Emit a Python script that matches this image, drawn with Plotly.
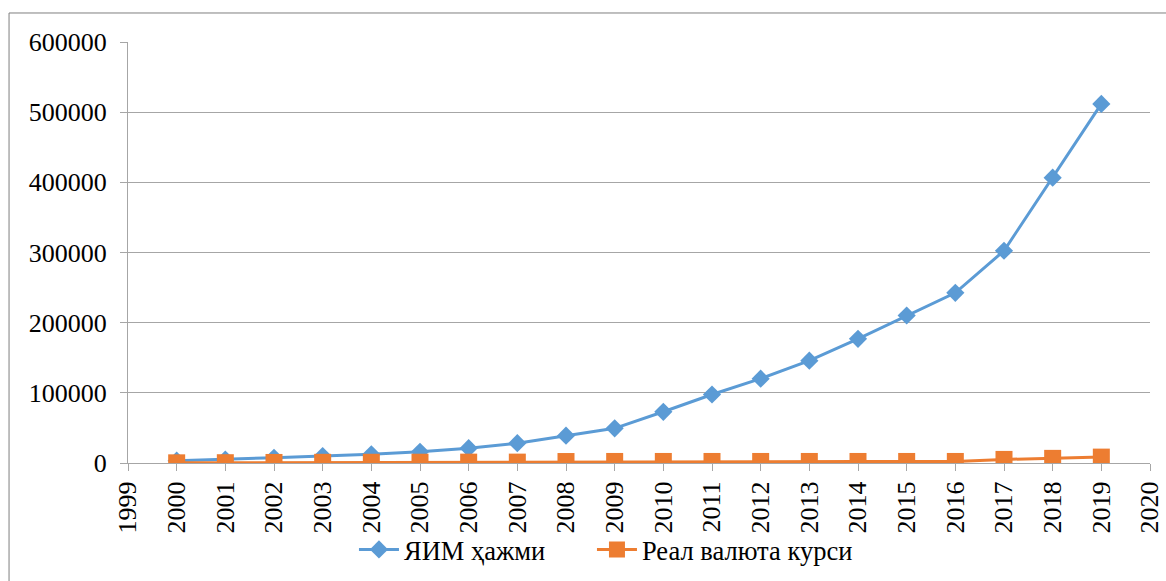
import plotly.graph_objects as go

years = list(range(2000, 2020))
gdp = [3300, 4900, 7500, 9800, 12300, 15900, 21100, 28200, 39000, 49400,
       73000, 97600, 120200, 145800, 177000, 210200, 242500, 302500, 406600, 511800]
rate = [240, 420, 770, 970, 1020, 1110, 1220, 1260, 2100, 2200,
        2200, 2200, 2200, 2200, 2200, 2200, 2200, 5100, 6600, 8400]
series_names = ["ЯИМ ҳажми", "Реал валюта курси"]
ytick_vals = [0, 100000, 200000, 300000, 400000, 500000, 600000]

FONT = "Liberation Serif"
GRID = "#a6a6a6"

fig = go.Figure()
fig.add_trace(go.Scatter(
    x=years, y=gdp, name=series_names[0], mode="lines+markers",
    line=dict(color="#5B9BD5", width=3), legendwidth=183,
    marker=dict(symbol="diamond", size=14, color="#5B9BD5"),
))
fig.add_trace(go.Scatter(
    x=years, y=rate, name=series_names[1], mode="lines+markers",
    line=dict(color="#ED7D31", width=3),
    marker=dict(symbol="square", size=17, color="#ED7D31"),
))

fig.update_layout(
    width=1166, height=581,
    margin=dict(l=128, r=16, t=42, b=118, autoexpand=False),
    paper_bgcolor="white", plot_bgcolor="white",
    font=dict(family=FONT, size=26, color="black"),
    showlegend=True,
    legend=dict(orientation="h", x=0.2211, xanchor="left", y=-0.206, yanchor="middle",
                font=dict(family=FONT, size=26.5, color="black"), itemwidth=40,
                tracegroupgap=0, bgcolor="rgba(0,0,0,0)"),
    xaxis=dict(range=[1999, 2020], dtick=1, tick0=1999, tickangle=-90, automargin=False,
               showgrid=False, zeroline=False, showline=True, linecolor=GRID, linewidth=1,
               ticks="outside", ticklen=7, tickcolor=GRID,
               tickfont=dict(family=FONT, size=26, color="black")),
    yaxis=dict(range=[0, 600000], tickvals=ytick_vals, tickformat="d", automargin=False,
               showgrid=True, gridcolor=GRID, gridwidth=1, zeroline=False,
               showline=True, linecolor=GRID, linewidth=1,
               ticks="outside", ticklen=7, tickcolor=GRID, ticklabelstandoff=8,
               tickfont=dict(family=FONT, size=26, color="black")),
    shapes=[
        dict(type="line", xref="paper", yref="paper", x0=-0.1164, x1=1.2, y0=1.0689, y1=1.0689,
             line=dict(color="#7f7f7f", width=1)),
        dict(type="line", xref="paper", yref="paper", x0=-0.1164, x1=-0.1164, y0=1.0689, y1=-0.5,
             line=dict(color="#7f7f7f", width=1)),
    ],
)

fig.write_html("out.html")
